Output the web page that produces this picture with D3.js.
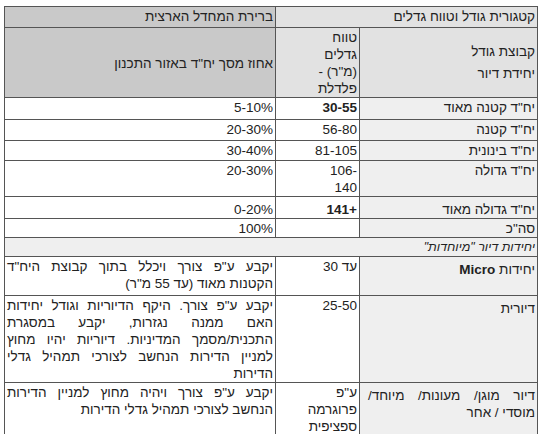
<!DOCTYPE html>
<html><head><meta charset="utf-8">
<script src="https://cdn.jsdelivr.net/npm/d3@7"></script>
<style>
body{margin:0;background:#fff;overflow:hidden;}
table{position:absolute;left:4px;top:6px;border-collapse:collapse;direction:rtl;table-layout:fixed;
 font-family:"Liberation Sans","DejaVu Sans",sans-serif;font-size:13.5px;color:#222;}
td{border:1px solid #555;padding:1px 2px 0 2px;vertical-align:top;text-align:right;line-height:17px;overflow:hidden;}
.lg{background:#e2e2e2}.dg{background:#c9c9c9}.cat{background:#efefef}
.just{text-align:justify;text-align-last:right}
.n{direction:ltr;unicode-bidi:embed;display:inline-block;text-align:right}
</style></head><body>
<script>
var groups = ['יח"ד קטנה מאוד','יח"ד קטנה','יח"ד בינונית','יח"ד גדולה','יח"ד גדולה מאוד','סה"כ'];
var ranges = ['30-55','56-80','81-105','106-<br>140','141+',''];
var shares = ['5-10%','20-30%','30-40%','20-30%','0-20%','100%'];
var rowH = [22,21,20,36,22,19];
var bold = [true,false,false,false,true,false];

var specialNames = ['יחידות <b>Micro</b>','דיורית','דיור מוגן/ מעונות/ מיוחד/ מוסדי / אחר'];
var specialRanges = ['עד 30','<span class="n">25-50</span>','ע"פ<br>פרוגרמה<br>ספציפית'];
var specialNotes = ['יקבע ע"פ צורך ויכלל בתוך קבוצת היח"ד הקטנות מאוד (עד 55 מ"ר)',
 'יקבע ע"פ צורך. היקף הדיוריות וגודל יחידות האם ממנה נגזרות, יקבע במסגרת התכנית/מסמך המדיניות. דיוריות יהיו מחוץ למניין הדירות הנחשב לצורכי תמהיל גדלי הדירות',
 'יקבע ע"פ צורך ויהיה מחוץ למניין הדירות הנחשב לצורכי תמהיל גדלי הדירות'];
var specialH = [39,82,56];

var t = d3.select('body').append('table');
var cg = t.append('colgroup');
[178,84,271].forEach(function(w){ cg.append('col').style('width', w+'px'); });

var h1 = t.append('tr').style('height','21px');
h1.append('td').attr('class','lg').attr('colspan',2).text('קטגורית גודל וטווח גדלים');
h1.append('td').attr('class','dg').text('ברירת המחדל הארצית');
var h2 = t.append('tr').style('height','68px');
h2.append('td').attr('class','lg').style('vertical-align','middle').style('line-height','22px').html('קבוצת גודל<br>יחידת דיור');
h2.append('td').attr('class','lg').html('טווח<br>גדלים<br>(מ"ר) -<br>פלדלת');
h2.append('td').attr('class','dg').style('vertical-align','middle').text('אחוז מסך יח"ד באזור התכנון');

var va = function(d,i){ return i==4 ? 'bottom' : 'top'; };
var rows = t.selectAll('tr.d').data(groups).enter().append('tr').attr('class','d')
  .style('height', function(d,i){ return rowH[i]+'px'; });
rows.append('td').attr('class','cat').text(function(d){ return d; }).style('vertical-align', va);
rows.append('td').html(function(d,i){ return ranges[i] ? '<span class="n">'+ranges[i]+'</span>' : ''; })
  .style('font-weight', function(d,i){ return bold[i] ? 'bold' : 'normal'; })
  .style('vertical-align', va);
rows.append('td').html(function(d,i){ return '<span class="n">'+shares[i]+'</span>'; }).style('vertical-align', va);

t.append('tr').style('height','18px').append('td').attr('colspan',3).attr('class','cat')
  .style('font-style','italic').style('font-size','12.5px').text('יחידות דיור "מיוחדות"');

var srows = t.selectAll('tr.s').data(specialNames).enter().append('tr').attr('class','s')
  .style('height', function(d,i){ return specialH[i]+'px'; });
srows.append('td').attr('class','cat just').style('padding-left','8px').style('padding-top','4px')
  .html(function(d){ return d; });
srows.append('td').html(function(d,i){ return specialRanges[i]; });
srows.append('td').attr('class','just').text(function(d,i){ return specialNotes[i]; });
</script>
</body></html>
